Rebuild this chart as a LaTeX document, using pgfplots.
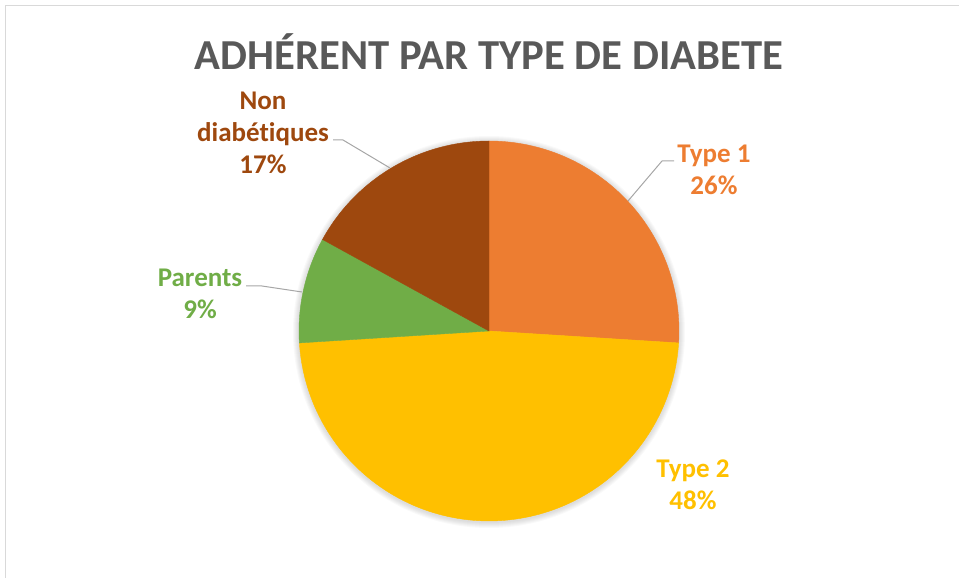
\documentclass[border=0pt]{standalone}
\usepackage{fontspec}
\setmainfont[Ligatures=NoCommon]{Carlito}
\usepackage{pgfplots}
\usepackage{pgfplotstable}
\pgfplotsset{compat=1.18}
\definecolor{cT1}{HTML}{ED7D31}
\definecolor{cT2}{HTML}{FFC000}
\definecolor{cPa}{HTML}{70AD47}
\definecolor{cND}{HTML}{9E480E}
\definecolor{ctitle}{HTML}{595959}
\definecolor{cline}{HTML}{A6A6A6}
\definecolor{cframe}{HTML}{D9D9D9}
\tikzset{lbl/.style={font=\fontsize{27}{32}\selectfont\bfseries, align=center, inner sep=0pt}}

\pgfplotstableread{
name value
Type1 26
Type2 48
Parents 9
NonDiab 17
}\pietable

\begin{document}
\begin{tikzpicture}
\pgfplotstablegetelem{0}{value}\of\pietable \pgfmathsetmacro\vA{\pgfplotsretval}
\pgfplotstablegetelem{1}{value}\of\pietable \pgfmathsetmacro\vB{\pgfplotsretval}
\pgfplotstablegetelem{2}{value}\of\pietable \pgfmathsetmacro\vC{\pgfplotsretval}
\pgfplotstablegetelem{3}{value}\of\pietable \pgfmathsetmacro\vD{\pgfplotsretval}
\pgfmathsetmacro\aA{90}
\pgfmathsetmacro\aB{\aA-3.6*\vA}
\pgfmathsetmacro\aC{\aB-3.6*\vB}
\pgfmathsetmacro\aD{\aC-3.6*\vC}
\pgfmathsetmacro\aE{\aD-3.6*\vD}
\begin{axis}[at={(0,0)}, anchor=south west, x=1pt, y=1pt,
  xmin=0, xmax=959, ymin=0, ymax=578, hide axis, clip=false]
  % frame
  \draw[cframe, line width=1.2pt] (axis cs:5.5,-10) -- (axis cs:5.5,572.5) -- (axis cs:970,572.5);
  % soft shadow
  \pgfplotsinvokeforeach{1,...,6}{
    \fill[black, opacity=0.022] (axis cs:489,246) circle[radius=190+#1];
  }
  % slices
  \addplot[fill=cT1, draw=cT1, line width=0.4pt, domain=\aB:\aA, samples=90, variable=\t]
    ({489+190*cos(\t)}, {247+190*sin(\t)}) -- (axis cs:489,247) -- cycle;
  \addplot[fill=cT2, draw=cT2, line width=0.4pt, domain=\aC:\aB, samples=120, variable=\t]
    ({489+190*cos(\t)}, {247+190*sin(\t)}) -- (axis cs:489,247) -- cycle;
  \addplot[fill=cPa, draw=cPa, line width=0.4pt, domain=\aD:\aC, samples=40, variable=\t]
    ({489+190*cos(\t)}, {247+190*sin(\t)}) -- (axis cs:489,247) -- cycle;
  \addplot[fill=cND, draw=cND, line width=0.4pt, domain=\aE:\aD, samples=60, variable=\t]
    ({489+190*cos(\t)}, {247+190*sin(\t)}) -- (axis cs:489,247) -- cycle;
  % leader lines
  \draw[cline, line width=1pt] (axis cs:674,417) -- (axis cs:662,417) -- (axis cs:628,377);
  \draw[cline, line width=1pt] (axis cs:333,438) -- (axis cs:343,438) -- (axis cs:390,410);
  \draw[cline, line width=1pt] (axis cs:246,292) -- (axis cs:262,292) -- (axis cs:302,286);
  % labels
  \node[lbl, text=cT1] at (axis cs:714,408) {Type 1\\26\%};
  \node[lbl, text=cT2] at (axis cs:693,93) {Type 2\\48\%};
  \node[lbl, text=cPa] at (axis cs:200,284) {Parents\\9\%};
  \node[lbl, text=cND] at (axis cs:263,445) {Non\\diabét\kern0pt iques\\17\%};
  % title
  \node[font=\fontsize{42.7}{50}\selectfont\bfseries, text=ctitle, inner sep=0pt] at (axis cs:489,526) {ADHÉRENT PAR TYPE DE DIABETE};
\end{axis}
\pgfresetboundingbox
\path[use as bounding box] (0,0) rectangle (959pt,578pt);
\end{tikzpicture}
\end{document}
